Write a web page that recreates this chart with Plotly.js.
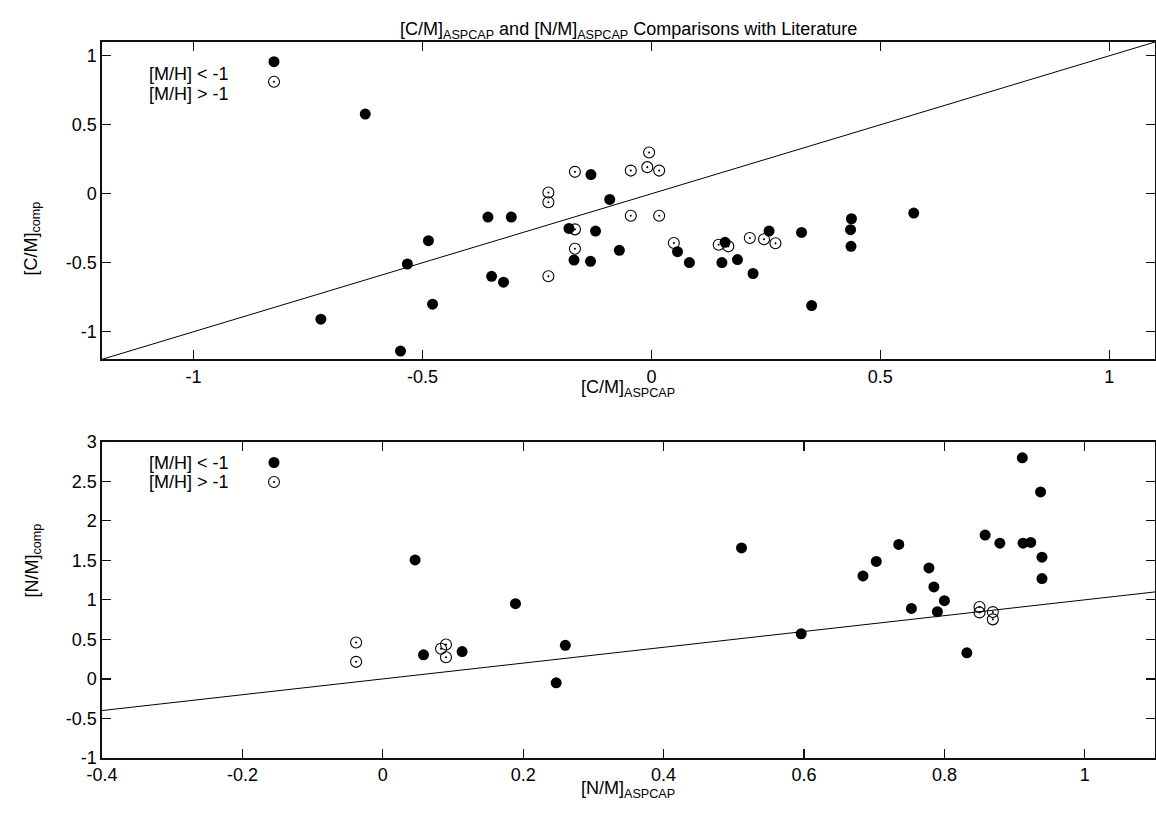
<!DOCTYPE html>
<html>
<head>
<meta charset="utf-8">
<script src="https://cdn.plot.ly/plotly-3.0.1.min.js"></script>
<style>
  html, body { margin: 0; padding: 0; background: #fff; }
  #chart { width: 1156px; height: 825px; }
</style>
</head>
<body>
<div id="chart"></div>
<script>
// [C/M]: ASPCAP vs literature, metal-poor stars ([M/H] < -1)
const cAspcapPoor = [-0.357, -0.306, -0.349, -0.323, -0.132, -0.091, -0.180, -0.122, -0.169, -0.133,
                     -0.070, 0.057, 0.083, 0.161, 0.154, 0.188, 0.222, 0.257, 0.328, 0.350,
                     0.437, 0.435, 0.436, 0.573, -0.487, -0.533, -0.478, -0.722, -0.548, -0.625];
const cCompPoor   = [-0.169, -0.169, -0.598, -0.641, 0.139, -0.041, -0.251, -0.270, -0.480, -0.490,
                     -0.410, -0.420, -0.499, -0.352, -0.499, -0.477, -0.578, -0.270, -0.280, -0.810,
                     -0.181, -0.260, -0.381, -0.140, -0.340, -0.509, -0.800, -0.909, -1.140, 0.578];
// [C/M]: metal-rich stars ([M/H] > -1)
const cAspcapRich = [-0.167, -0.225, -0.225, -0.167, -0.167, -0.225, -0.045, -0.005, -0.009, 0.017,
                     -0.045, 0.017, 0.049, 0.147, 0.168, 0.215, 0.246, 0.271];
const cCompRich   = [0.159, 0.009, -0.061, -0.258, -0.398, -0.598, 0.168, 0.299, 0.193, 0.168,
                     -0.159, -0.159, -0.357, -0.369, -0.381, -0.321, -0.330, -0.359];

// [N/M]: metal-poor stars
const nAspcapPoor = [0.046, 0.189, 0.058, 0.113, 0.260, 0.247, 0.511, 0.596, 0.684, 0.703,
                     0.735, 0.753, 0.778, 0.785, 0.790, 0.800, 0.832, 0.858, 0.879, 0.911,
                     0.912, 0.923, 0.937, 0.939, 0.939];
const nCompPoor   = [1.505, 0.952, 0.305, 0.346, 0.425, -0.050, 1.657, 0.571, 1.302, 1.485,
                     1.700, 0.892, 1.404, 1.163, 0.850, 0.990, 0.330, 1.819, 1.717, 2.796,
                     1.717, 1.726, 2.364, 1.539, 1.269];
// [N/M]: metal-rich stars
const nAspcapRich = [-0.038, -0.038, 0.083, 0.090, 0.090, 0.850, 0.850, 0.869, 0.869];
const nCompRich   = [0.461, 0.216, 0.381, 0.435, 0.274, 0.909, 0.841, 0.845, 0.753];

// axis extents (the one-to-one line spans them)
const cRange = [-1.2, 1.1];
const nRangeX = [-0.4, 1.1];
const nRangeY = [-1, 3];

// tick labels
const cTicks = [-1, -0.5, 0, 0.5, 1];
const cTickText = ["-1", "-0.5", "0", "0.5", "1"];
const nTicksX = [-0.4, -0.2, 0, 0.2, 0.4, 0.6, 0.8, 1];
const nTickTextX = ["-0.4", "-0.2", "0", "0.2", "0.4", "0.6", "0.8", "1"];
const nTicksY = [-1, -0.5, 0, 0.5, 1, 1.5, 2, 2.5, 3];
const nTickTextY = ["-1", "-0.5", "0", "0.5", "1", "1.5", "2", "2.5", "3"];

const legendLabels = ["[M/H] < -1", "[M/H] > -1"];

const FONT = "Liberation Sans, Arial, Helvetica, sans-serif";
const FS = 18;
const INK = "#000";

const filled = { symbol: "circle", size: 11, color: INK };
const hollow = { symbol: "circle-open-dot", size: 11, color: INK, line: { width: 1.1, color: INK } };

const traces = [
  { x: cRange, y: cRange, xaxis: "x", yaxis: "y", mode: "lines", line: { color: INK, width: 1 } },
  { x: cAspcapPoor, y: cCompPoor, xaxis: "x", yaxis: "y", mode: "markers", marker: filled },
  { x: cAspcapRich, y: cCompRich, xaxis: "x", yaxis: "y", mode: "markers", marker: hollow },
  { x: nRangeX, y: nRangeX, xaxis: "x2", yaxis: "y2", mode: "lines", line: { color: INK, width: 1 } },
  { x: nAspcapPoor, y: nCompPoor, xaxis: "x2", yaxis: "y2", mode: "markers", marker: filled },
  { x: nAspcapRich, y: nCompRich, xaxis: "x2", yaxis: "y2", mode: "markers", marker: hollow },
];

// key symbols drawn on a pixel-space helper axis pair
const W = 1156, H = 825;
const M = { l: 102, r: 1, t: 42, b: 67 };
const keyX = 274;
const keyRows = [[61.7, 81.7], [462.5, 482]];
keyRows.forEach(rows => {
  traces.push({ x: [keyX], y: [rows[0]], xaxis: "x3", yaxis: "y3", mode: "markers", marker: filled });
  traces.push({ x: [keyX], y: [rows[1]], xaxis: "x3", yaxis: "y3", mode: "markers", marker: hollow });
});

function frameAxis(extra) {
  return Object.assign({
    showline: true, linecolor: "#111", linewidth: 1.6, mirror: "ticks",
    ticks: "inside", ticklen: 9, tickwidth: 1.3, tickcolor: "#111",
    showgrid: false, zeroline: false, tickmode: "array",
    tickfont: { family: FONT, size: FS, color: INK },
    fixedrange: true,
  }, extra);
}

const px = v => (v - M.l) / (W - M.l - M.r);
const py = v => (H - M.b - v) / (H - M.t - M.b);

const annotations = [];
function addText(text, x, y, opts) {
  annotations.push(Object.assign({
    text, x: px(x), y: py(y), xref: "paper", yref: "paper", showarrow: false,
    font: { family: FONT, size: FS, color: INK },
  }, opts || {}));
}
addText("[C/M]<sub>ASPCAP</sub> and [N/M]<sub>ASPCAP</sub> Comparisons with Literature", 628, 17);
addText("[C/M]<sub>ASPCAP</sub>", 628, 388);
addText("[N/M]<sub>ASPCAP</sub>", 628, 803);
addText("[C/M]<sub>comp</sub>", 19, 200, { textangle: -90 });
addText("[N/M]<sub>comp</sub>", 19, 600, { textangle: -90 });
keyRows.forEach(rows => {
  addText(legendLabels[0], 231, rows[0], { xanchor: "right" });
  addText(legendLabels[1], 231, rows[1], { xanchor: "right" });
});

const layout = {
  width: W, height: H,
  margin: M,
  paper_bgcolor: "#fff", plot_bgcolor: "rgba(0,0,0,0)",
  showlegend: false,
  font: { family: FONT, size: FS, color: INK },
  xaxis: frameAxis({ domain: [0, 1], anchor: "y", range: cRange, tickvals: cTicks, ticktext: cTickText }),
  yaxis: frameAxis({ domain: [0.5568, 1], anchor: "x", range: cRange, tickvals: cTicks, ticktext: cTickText }),
  xaxis2: frameAxis({ domain: [0, 1], anchor: "y2", range: nRangeX, tickvals: nTicksX, ticktext: nTickTextX }),
  yaxis2: frameAxis({ domain: [0, 0.4418], anchor: "x2", range: nRangeY, tickvals: nTicksY, ticktext: nTickTextY }),
  xaxis3: { domain: [0, 1], anchor: "y3", range: [M.l, W - M.r], visible: false, fixedrange: true },
  yaxis3: { domain: [0, 1], anchor: "x3", range: [H - M.b, M.t], visible: false, fixedrange: true },
  annotations,
};

Plotly.newPlot("chart", traces, layout, { displayModeBar: false, staticPlot: true });
</script>
</body>
</html>
